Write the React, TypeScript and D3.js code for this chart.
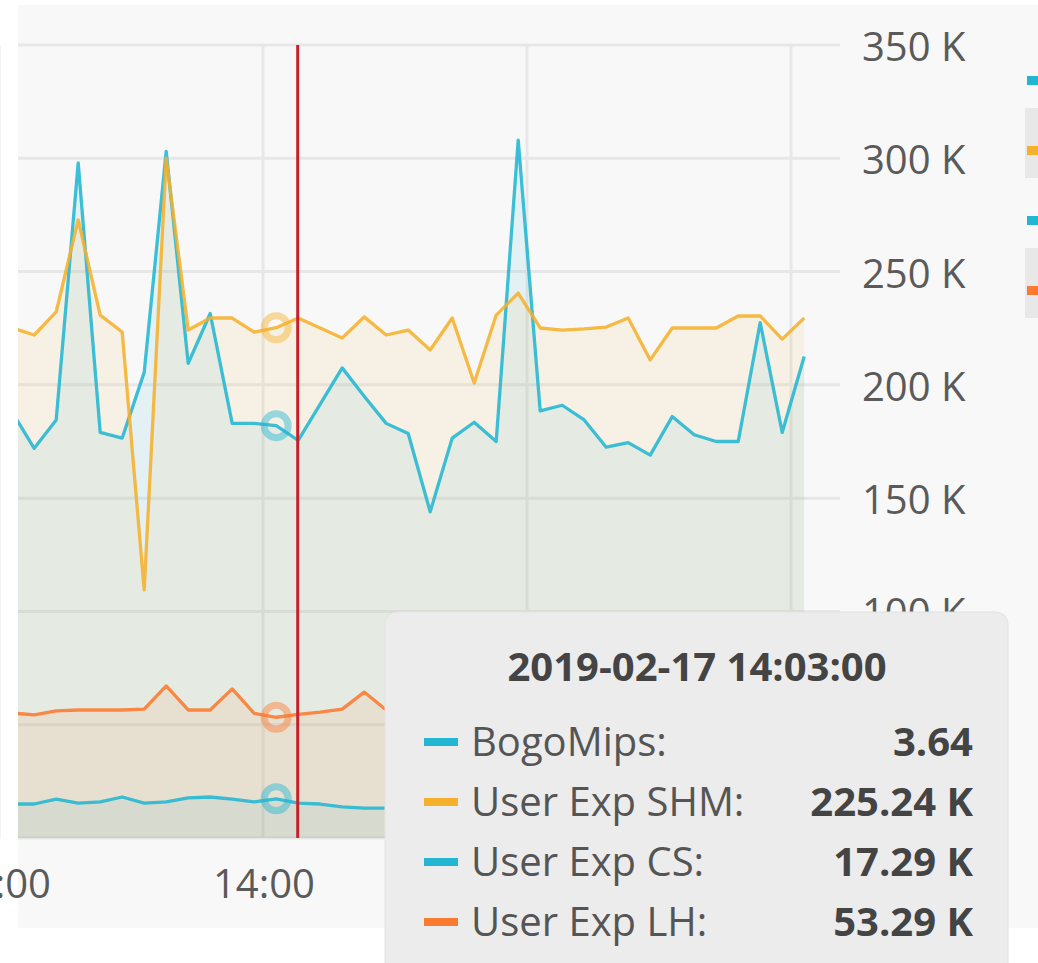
import React from "react";
import * as d3 from "d3";

const times = [
  "13:03", "13:08", "13:13", "13:18", "13:23", "13:28", "13:33", "13:38", "13:43", "13:48",
  "13:53", "13:58", "14:03", "14:08", "14:13", "14:18", "14:23", "14:28", "14:33", "14:38",
  "14:43", "14:48", "14:53", "14:58", "15:03", "15:08", "15:13", "15:18", "15:23", "15:28",
  "15:33", "15:38", "15:43", "15:48", "15:53", "15:58", "16:03",
];

// left axis (unitless)
const bogoMips = [
  3.76, 3.44, 3.69, 5.96, 3.58, 3.53, 4.11, 6.06, 4.19, 4.63,
  3.66, 3.66, 3.64, 3.51, 3.83, 4.15, 3.9, 3.66, 3.57, 2.88,
  3.53, 3.67, 3.5, 6.16, 3.77, 3.82, 3.69, 3.45, 3.49, 3.38,
  3.72, 3.56, 3.5, 3.5, 4.55, 3.58, 4.25,
];
// right axis, in K
const userExpSHM = [
  225.1, 222.0, 232.2, 272.8, 230.8, 223.3, 109.5, 300.1, 224.2, 229.5,
  229.5, 223.3, 225.24, 229.5, 225.1, 220.7, 230.0, 222.0, 224.2, 215.4,
  229.5, 200.8, 230.8, 240.5, 225.1, 224.2, 224.7, 225.5, 229.5, 211.0,
  225.1, 225.1, 225.1, 230.4, 230.4, 220.2, 229.5,
];
const userExpCS = [
  15.0, 15.0, 17.2, 15.4, 15.9, 18.1, 15.4, 15.9, 17.7, 18.1,
  17.2, 15.9, 17.29, 15.4, 15.0, 13.7, 13.2, 13.2, 13.4, 13.8,
  14.2, 14.0, 13.6, 14.5, 14.1, 13.8, 14.3, 13.9, 13.7, 14.2,
  14.0, 13.8, 14.4, 14.1, 13.9, 14.2, 14.0,
];
const userExpLH = [
  55.2, 54.3, 56.1, 56.5, 56.5, 56.5, 56.9, 67.1, 56.5, 56.5,
  65.8, 55.0, 53.29, 54.6, 55.6, 56.9, 64.4, 56.5, 56.0, 55.0,
  57.0, 56.0, 55.0, 56.0, 58.0, 56.0, 55.0, 56.0, 57.0, 56.0,
  55.0, 56.0, 56.0, 57.0, 56.0, 55.0, 56.0,
];

const seriesNames = ["BogoMips", "User Exp SHM", "User Exp CS", "User Exp LH"];
const seriesColors = ["#22b6d2", "#f5b12c", "#22b6d2", "#fa7a30"];
const tooltipValues = ["3.64", "225.24 K", "17.29 K", "53.29 K"];
const tooltipTitle = "2019-02-17 14:03:00";
const rightTicks = [0, 50, 100, 150, 200, 250, 300, 350];
const rightTickLabels = [100, 150, 200, 250, 300, 350];
const timeTicks = ["13:00", "14:00", "15:00", "16:00"];
const timeTickLabels = ["13:00", "14:00"];
const hoverIndex = 12;
const crosshairTime = "14:08";

const parseT = (s: string) => {
  const [h, m] = s.split(":").map(Number);
  return new Date(2019, 1, 17, h, m);
};

export default function App() {
  const W = 1038, H = 963;
  const plotL = 18, plotR = 840, plotT = 45, plotB = 838;
  const font = "'Open Sans', 'Noto Sans', sans-serif";

  const x = d3.scaleTime().domain([parseT("13:00"), parseT("16:00")]).range([-1, 791]);
  const yR = d3.scaleLinear().domain([0, 350]).range([plotB, plotT]);
  const yL = d3.scaleLinear().domain([0, 7]).range([plotB, plotT]);

  const dates = times.map(parseT);
  const series = [
    { vals: bogoMips, y: yL },
    { vals: userExpSHM, y: yR },
    { vals: userExpCS, y: yR },
    { vals: userExpLH, y: yR },
  ];

  const crossX = x(parseT(crosshairTime)) - 0.5;

  return (
    <div style={{ position: "absolute", left: 0, top: 0 }}>
      <svg width={W} height={H} style={{ display: "block", fontFamily: font }}>
        <defs>
          <clipPath id="plotClip">
            <rect x={plotL} y={plotT} width={plotR - plotL} height={plotB - plotT} />
          </clipPath>
        </defs>
        <rect x={0} y={0} width={W} height={H} fill="#ffffff" />
        <rect x={plotL} y={5} width={W - plotL} height={923} fill="#f8f8f8" />

        {/* grid */}
        {rightTicks.map((t) => (
          <line key={"h" + t} x1={plotL} x2={plotR} y1={yR(t)} y2={yR(t)} stroke="#e7e7e7" strokeWidth={3} />
        ))}
        {timeTicks.map((t) => (
          <line key={"v" + t} x1={x(parseT(t))} x2={x(parseT(t))} y1={plotT} y2={plotB} stroke="#e7e7e7" strokeWidth={3} />
        ))}

        <g clipPath="url(#plotClip)">
          {series.map((s, si) => {
            const area = d3.area<number>()
              .x((_, i) => x(dates[i]))
              .y0(plotB)
              .y1((v) => s.y(v))
              .curve(d3.curveLinear);
            return <path key={"a" + si} d={area(s.vals) || ""} fill={seriesColors[si]} fillOpacity={0.09} />;
          })}
          {series.map((s, si) => {
            const line = d3.line<number>()
              .x((_, i) => x(dates[i]))
              .y((v) => s.y(v))
              .curve(d3.curveLinear);
            return (
              <path key={"l" + si} d={line(s.vals) || ""} fill="none" stroke={seriesColors[si]}
                strokeWidth={3.3} strokeLinejoin="round" opacity={0.88} />
            );
          })}
          <line x1={crossX} x2={crossX} y1={plotT} y2={plotB} stroke="#c8202a" strokeWidth={3} />
          {series.map((s, si) => (
            <circle key={"c" + si} cx={x(dates[hoverIndex])} cy={s.y(s.vals[hoverIndex])} r={12}
              fill="none" stroke={seriesColors[si]} strokeWidth={7} opacity={0.45} />
          ))}
        </g>

        {/* right axis labels */}
        {rightTickLabels.map((t) => (
          <text key={"yl" + t} x={862} y={yR(t) + 16} fontSize={40} fill="#5a5a5a">
            {t} K
          </text>
        ))}

        {/* x axis labels */}
        {timeTickLabels.map((t) => (
          <text key={"xl" + t} x={x(parseT(t)) + 1} y={898} fontSize={40} fill="#5a5a5a" textAnchor="middle">
            {t}
          </text>
        ))}

        {/* legend (cropped) */}
        <rect x={1025} y={108} width={13} height={70} fill="#e8e8e8" />
        <rect x={1025} y={248} width={13} height={70} fill="#e8e8e8" />
        {seriesColors.map((c, i) => (
          <rect key={"lg" + i} x={1027} y={76 + i * 70} width={11} height={9} fill={c} />
        ))}

        {/* tooltip */}
        <rect x={385} y={612} width={623} height={370} rx={12} fill="#ececec" stroke="#e2e2e2" strokeWidth={1} />
        <text x={697} y={681} fontSize={40} fontWeight={700} fill="#444" textAnchor="middle">
          {tooltipTitle}
        </text>
        {seriesNames.map((n, i) => (
          <g key={"tt" + i}>
            <rect x={424} y={738 + i * 60} width={34} height={8} fill={seriesColors[i]} />
            <text x={471} y={756 + i * 60} fontSize={40} fill="#555">{n}:</text>
            <text x={973} y={756 + i * 60} fontSize={40} fontWeight={700} fill="#444" textAnchor="end">
              {tooltipValues[i]}
            </text>
          </g>
        ))}
      </svg>
    </div>
  );
}
